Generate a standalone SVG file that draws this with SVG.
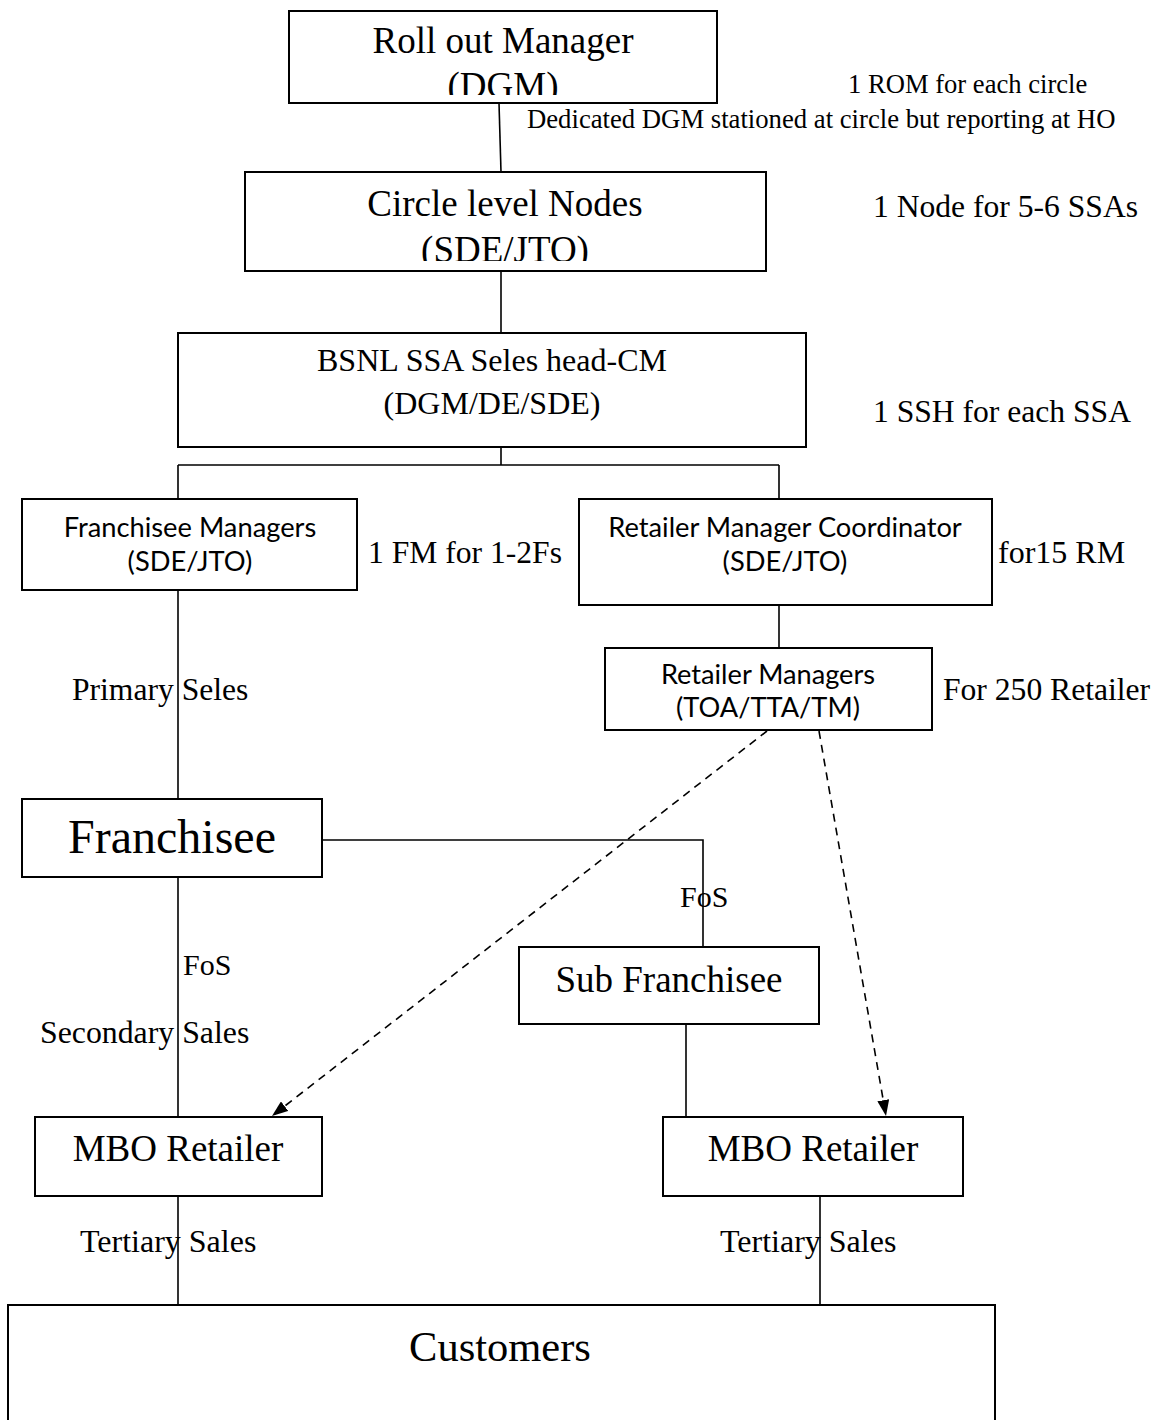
<svg xmlns="http://www.w3.org/2000/svg" width="1160" height="1420" viewBox="0 0 1160 1420">
<style>
.box{fill:#fff;stroke:#000;stroke-width:2}
.ln{fill:none;stroke:#000;stroke-width:1.6}
.dash{stroke-dasharray:8 6}
.t{font-family:"Liberation Serif","Times New Roman",serif;fill:#000}
.s{font-family:Lato,"Liberation Sans",sans-serif;fill:#000}
.c{text-anchor:middle}
</style>
<defs>
<marker id="ah" viewBox="0 0 16 12" refX="16" refY="6" markerWidth="16" markerHeight="12" markerUnits="userSpaceOnUse" orient="auto">
<path d="M0,0 L16,6 L0,12 Z" fill="#000"/>
</marker>
<clipPath id="clipRom"><rect x="289" y="11" width="428" height="84"/></clipPath>
<clipPath id="clipCircle"><rect x="245" y="172" width="521" height="89"/></clipPath>
</defs>

<g id="connectors">
<line class="ln" x1="499" y1="103" x2="501" y2="172"/>
<line class="ln" x1="501" y1="271" x2="501" y2="333"/>
<path class="ln" d="M501,447 V465 M178,465 H779 M178,465 V499 M779,465 V499"/>
<line class="ln" x1="779" y1="605" x2="779" y2="648"/>
<line class="ln" x1="178" y1="590" x2="178" y2="799"/>
<path class="ln" d="M322,840 H703 V947"/>
<line class="ln" x1="178" y1="877" x2="178" y2="1117"/>
<line class="ln" x1="686" y1="1024" x2="686" y2="1117"/>
<line class="ln dash" x1="767" y1="731" x2="272" y2="1116" marker-end="url(#ah)"/>
<line class="ln dash" x1="819" y1="731" x2="886" y2="1116" marker-end="url(#ah)"/>
<line class="ln" x1="178" y1="1196" x2="178" y2="1305"/>
<line class="ln" x1="820" y1="1196" x2="820" y2="1305"/>
</g>

<g id="node-rom">
<rect class="box" x="289" y="11" width="428" height="92"/>
<g clip-path="url(#clipRom)">
<text class="t c" x="503" y="53" font-size="37">Roll out Manager</text>
<text class="t c" x="503" y="98" font-size="37">(DGM)</text>
</g>
</g>
<text class="t" x="848" y="93" font-size="26.6">1 ROM for each circle</text>
<text class="t" x="527" y="128" font-size="26.7">Dedicated DGM stationed at circle but reporting at HO</text>

<g id="node-circle">
<rect class="box" x="245" y="172" width="521" height="99"/>
<g clip-path="url(#clipCircle)">
<text class="t c" x="505" y="216" font-size="37">Circle level Nodes</text>
<text class="t c" x="505" y="262" font-size="37">(SDE/JTO)</text>
</g>
</g>
<text class="t" x="873" y="217" font-size="31.6">1 Node for 5-6 SSAs</text>

<g id="node-bsnl">
<rect class="box" x="178" y="333" width="628" height="114"/>
<text class="t c" x="492" y="371" font-size="32">BSNL SSA Seles head-CM</text>
<text class="t c" x="492" y="414" font-size="32">(DGM/DE/SDE)</text>
</g>
<text class="t" x="873" y="422" font-size="31.6">1 SSH for each SSA</text>

<g id="node-fm">
<rect class="box" x="22" y="499" width="335" height="91"/>
<text class="s c" x="190" y="537" font-size="27.3">Franchisee Managers</text>
<text class="s c" x="190" y="571" font-size="27.3">(SDE/JTO)</text>
</g>
<text class="t" x="368" y="563" font-size="31.6">1 FM for 1-2Fs</text>

<g id="node-rmc">
<rect class="box" x="579" y="499" width="413" height="106"/>
<text class="s c" x="785" y="537" font-size="27.3">Retailer Manager Coordinator</text>
<text class="s c" x="785" y="571" font-size="27.3">(SDE/JTO)</text>
</g>
<text class="t" x="998" y="563" font-size="32">for15 RM</text>

<g id="node-rm">
<rect class="box" x="605" y="648" width="327" height="82"/>
<text class="s c" x="768" y="684" font-size="27.2">Retailer Managers</text>
<text class="s c" x="768" y="717" font-size="27.2">(TOA/TTA/TM)</text>
</g>
<text class="t" x="943" y="700" font-size="31.6">For 250 Retailer</text>

<text class="t" x="72" y="700" font-size="31.6">Primary Seles</text>

<g id="node-franchisee">
<rect class="box" x="22" y="799" width="300" height="78"/>
<text class="t c" x="172" y="853" font-size="48">Franchisee</text>
</g>

<text class="t" x="680" y="907" font-size="30">FoS</text>

<g id="node-sub">
<rect class="box" x="519" y="947" width="300" height="77"/>
<text class="t c" x="669" y="992" font-size="37">Sub Franchisee</text>
</g>

<text class="t" x="183" y="975" font-size="30">FoS</text>
<text class="t" x="40" y="1043" font-size="31.8">Secondary Sales</text>

<g id="node-mbo-left">
<rect class="box" x="35" y="1117" width="287" height="79"/>
<text class="t c" x="178" y="1161" font-size="37">MBO Retailer</text>
</g>

<g id="node-mbo-right">
<rect class="box" x="663" y="1117" width="300" height="79"/>
<text class="t c" x="813" y="1161" font-size="37">MBO Retailer</text>
</g>

<text class="t" x="80" y="1252" font-size="32">Tertiary Sales</text>
<text class="t" x="720" y="1252" font-size="32">Tertiary Sales</text>

<g id="node-customers">
<rect class="box" x="8" y="1305" width="987" height="140"/>
<text class="t c" x="500" y="1361" font-size="42.5">Customers</text>
</g>
</svg>
